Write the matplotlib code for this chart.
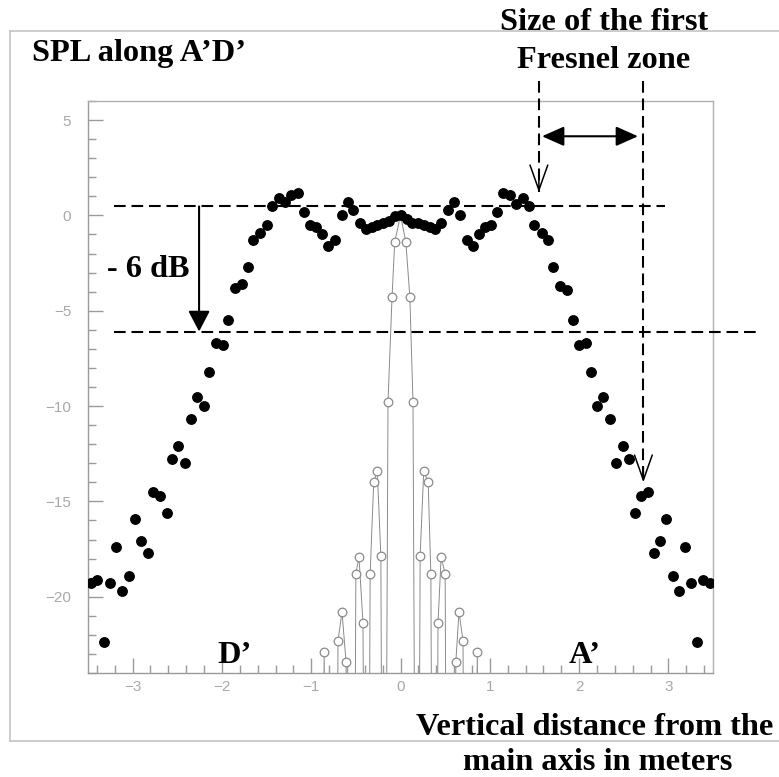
import matplotlib
matplotlib.use("Agg")
from matplotlib import pyplot as plt
from matplotlib.ticker import MultipleLocator
from matplotlib.lines import Line2D

# measured SPL (filled dots)
spl_x = [-3.47, -3.40, -3.32, -3.25, -3.19, -3.12, -3.04, -2.97, -2.91, -2.83,
         -2.77, -2.69, -2.62, -2.56, -2.49, -2.41, -2.35, -2.28, -2.20, -2.15,
         -2.07, -1.99, -1.93, -1.85, -1.78, -1.71, -1.65, -1.57, -1.50, -1.44,
         -1.36, -1.29, -1.23, -1.15, -1.08, -1.01, -0.95, -0.88, -0.81, -0.73,
         -0.66, -0.59, -0.53, -0.45, -0.39, -0.32, -0.26, -0.20, -0.13, -0.06,
         0.01, 0.07, 0.13, 0.20, 0.26, 0.33, 0.39, 0.45, 0.53, 0.60,
         0.67, 0.75, 0.81, 0.88, 0.95, 1.01, 1.08, 1.15, 1.23, 1.29,
         1.37, 1.44, 1.50, 1.59, 1.65, 1.71, 1.79, 1.87, 1.93, 2.00,
         2.08, 2.13, 2.20, 2.27, 2.35, 2.41, 2.49, 2.56, 2.63, 2.69,
         2.77, 2.84, 2.91, 2.97, 3.05, 3.12, 3.19, 3.25, 3.32, 3.39, 3.47]
spl_y = [-19.3, -19.1, -22.4, -19.3, -17.4, -19.7, -18.9, -15.9, -17.1, -17.7,
         -14.5, -14.7, -15.6, -12.8, -12.1, -13.0, -10.7, -9.5, -10.0, -8.2,
         -6.7, -6.8, -5.5, -3.8, -3.6, -2.7, -1.3, -0.9, -0.5, 0.5,
         0.9, 0.7, 1.05, 1.15, 0.2, -0.5, -0.6, -1.0, -1.6, -1.3,
         0.0, 0.7, 0.3, -0.4, -0.7, -0.6, -0.5, -0.4, -0.3, -0.05,
         0.0, -0.2, -0.4, -0.4, -0.5, -0.6, -0.7, -0.4, 0.3, 0.7,
         0.0, -1.3, -1.6, -1.0, -0.6, -0.5, 0.2, 1.15, 1.05, 0.6,
         0.9, 0.5, -0.5, -0.9, -1.3, -2.7, -3.7, -3.9, -5.5, -6.8,
         -6.7, -8.2, -10.0, -9.5, -10.7, -13.0, -12.1, -12.8, -15.6, -14.7,
         -14.5, -17.7, -17.1, -15.9, -18.9, -19.7, -17.4, -19.3, -22.4, -19.1, -19.3]

# theoretical curve (open circles); -40 values are the nulls below the frame
theo_x = [-0.88, -0.855, -0.83, -0.72, -0.70, -0.655, -0.61, -0.59, -0.52, -0.50,
          -0.465, -0.42, -0.40, -0.36, -0.34, -0.30, -0.26, -0.22, -0.20, -0.17,
          -0.14, -0.095, -0.065, 0.0, 0.06, 0.105, 0.14, 0.17, 0.20, 0.22,
          0.26, 0.31, 0.34, 0.36, 0.40, 0.42, 0.455, 0.50, 0.52, 0.60,
          0.62, 0.655, 0.70, 0.72, 0.83, 0.86, 0.885]
theo_y = [-40, -22.9, -40, -40, -22.3, -20.8, -23.4, -40, -40, -18.8,
          -17.9, -21.4, -40, -40, -18.8, -14.0, -13.4, -17.85, -40, -40,
          -9.8, -4.3, -1.4, 0.0, -1.4, -4.3, -9.8, -40, -40, -17.85,
          -13.4, -14.0, -18.8, -40, -40, -21.4, -17.9, -18.8, -40, -40,
          -23.4, -20.8, -22.3, -40, -40, -22.9, -40]

top_level = 0.47
low_level = -6.09
fresnel_x = [1.55, 2.72]
fresnel_tip = [1.21, -14.0]

W, H = 779, 777
fig = plt.figure(figsize=(W / 100, H / 100), dpi=100)
ax = fig.add_axes([88 / W, 1 - 673 / H, 625 / W, 572 / H])

grey = '#9a9a9a'
ax.plot(theo_x, theo_y, color='#8a8a8a', lw=0.7, zorder=2)
mx = [x for x, y in zip(theo_x, theo_y) if y > -30]
my = [y for y in theo_y if y > -30]
ax.plot(mx, my, 'o', ms=6.2, mfc='white', mec='#8a8a8a', mew=0.9, zorder=3)
ax.plot(spl_x, spl_y, 'o', ms=6.8, color='black', zorder=4)

ax.set_xlim(-3.5, 3.5)
ax.set_ylim(-24, 6)
ax.xaxis.set_major_locator(MultipleLocator(1))
ax.xaxis.set_minor_locator(MultipleLocator(0.2))
ax.yaxis.set_major_locator(MultipleLocator(5))
ax.yaxis.set_minor_locator(MultipleLocator(1))
ax.tick_params(which='both', direction='in', color=grey, width=1,
               labelcolor='#a8a8a8', labelsize=11, top=False, right=False)
ax.tick_params(which='major', length=11)
ax.tick_params(which='minor', length=6)
ax.tick_params(axis='y', pad=12)
ax.tick_params(axis='x', pad=5)
for lab in ax.get_xticklabels() + ax.get_yticklabels():
    lab.set_family('Liberation Sans')
for s in ax.spines.values():
    s.set_color('#b0b0b0')
    s.set_linewidth(1)
ax.spines['left'].set_color(grey)
ax.spines['bottom'].set_color(grey)

# annotation lines
dash = dict(color='black', lw=1.5, dashes=(5.6, 2.8), clip_on=False, zorder=5)
ax.plot([-3.21, 2.96], [top_level, top_level], **dash)
ax.plot([-3.21, 3.99], [low_level, low_level], **dash)
for fx, ft in zip(fresnel_x, fresnel_tip):
    ax.plot([fx, fx], [7.03, ft], **dash)
    ax.annotate('', xy=(fx, ft), xytext=(fx, ft + 0.8), annotation_clip=False,
                arrowprops=dict(arrowstyle='->,head_length=0.9,head_width=0.32',
                                mutation_scale=20, lw=1.1, color='black',
                                shrinkA=0, shrinkB=0))

ax.annotate('', xy=(-2.256, low_level), xytext=(-2.256, top_level),
            annotation_clip=False,
            arrowprops=dict(arrowstyle='-|>,head_length=0.42,head_width=0.22',
                            mutation_scale=30, lw=1.5, color='black',
                            shrinkA=0, shrinkB=0))
ax.annotate('', xy=(1.585, 4.15), xytext=(2.66, 4.15), annotation_clip=False,
            arrowprops=dict(arrowstyle='<|-|>,head_length=0.45,head_width=0.2',
                            mutation_scale=30, lw=1.5, color='black',
                            shrinkA=0, shrinkB=0))

# outer frame
for xs, ys in [([10, 10], [31, 741]), ([10, W + 5], [31, 31]), ([10, W + 5], [741, 741])]:
    fig.add_artist(Line2D([x / W for x in xs], [1 - y / H for y in ys],
                          color='#c4c4c4', lw=1.2))

bold = dict(family='Liberation Serif', weight='bold', fontsize=23.3, va='baseline')


def ftext(x, y, s, ha='center'):
    fig.text(x / W, 1 - y / H, s, ha=ha, **bold)


ftext(32, 61, 'SPL along A\u2019D\u2019', ha='left')
ftext(604, 30, 'Size of the first')
ftext(604, 68, 'Fresnel zone')
ftext(148, 277, '- 6 dB')
ftext(235, 663, 'D\u2019')
ftext(585, 663, 'A\u2019')
ftext(595, 735, 'Vertical distance from the')
ftext(598, 770, 'main axis in meters')

fig.savefig('out.png', dpi=100)
